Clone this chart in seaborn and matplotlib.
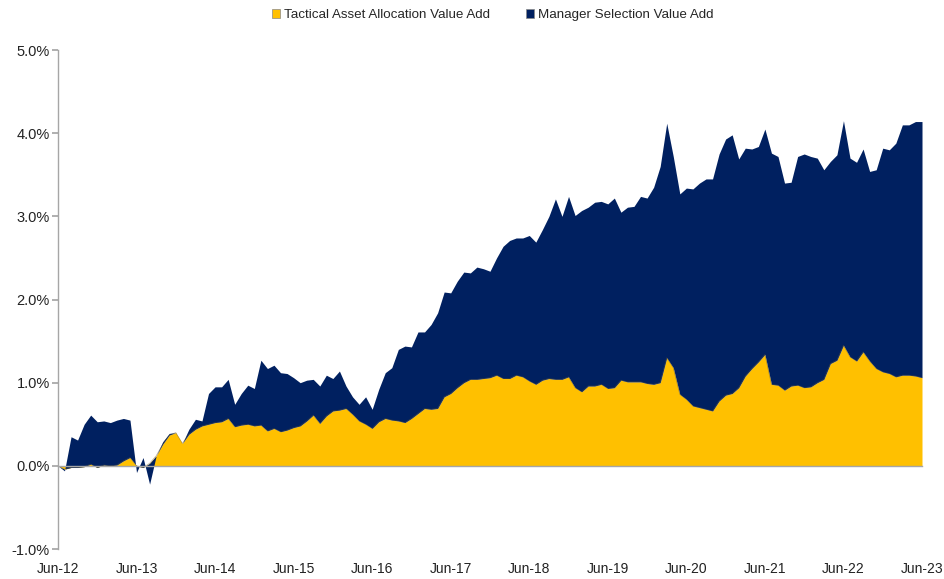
import numpy as np
import matplotlib
matplotlib.use('Agg')
import matplotlib.pyplot as plt
import seaborn as sns
from matplotlib.patches import Patch
from matplotlib.ticker import FuncFormatter

# cumulative value add (%), monthly Jun-12 .. Jun-23
taa = [
    0.00, -0.04, -0.02, -0.02, -0.01, 0.02, -0.02, 0.01, 0.00, 0.01, 0.06, 0.10,
    0.00, -0.02, 0.03, 0.12, 0.26, 0.37, 0.40, 0.27, 0.38, 0.44, 0.48, 0.50,
    0.52, 0.53, 0.57, 0.47, 0.49, 0.50, 0.48, 0.49, 0.42, 0.45, 0.41, 0.43,
    0.46, 0.48, 0.54, 0.61, 0.51, 0.60, 0.66, 0.67, 0.69, 0.62, 0.54, 0.50,
    0.45, 0.53, 0.57, 0.55, 0.54, 0.52, 0.57, 0.63, 0.69, 0.68, 0.69, 0.83,
    0.87, 0.94, 1.00, 1.04, 1.04, 1.05, 1.06, 1.09, 1.05, 1.05, 1.09, 1.07,
    1.02, 0.98, 1.03, 1.05, 1.04, 1.04, 1.07, 0.94, 0.89, 0.96, 0.96, 0.98,
    0.93, 0.94, 1.03, 1.01, 1.01, 1.01, 0.99, 0.98, 1.00, 1.30, 1.18, 0.86,
    0.80, 0.72, 0.70, 0.68, 0.66, 0.78, 0.85, 0.87, 0.94, 1.08, 1.17, 1.25,
    1.34, 0.98, 0.97, 0.91, 0.96, 0.97, 0.94, 0.95, 1.00, 1.04, 1.23, 1.27,
    1.45, 1.31, 1.26, 1.37, 1.26, 1.17, 1.13, 1.11, 1.07, 1.09, 1.09, 1.08,
    1.06,
]

# top of the stack (TAA + manager selection)
total_va = [
    0.00, -0.06, 0.35, 0.31, 0.50, 0.61, 0.53, 0.54, 0.52, 0.55, 0.57, 0.55,
    -0.08, 0.10, -0.22, 0.12, 0.29, 0.39, 0.40, 0.27, 0.44, 0.56, 0.54, 0.87,
    0.95, 0.95, 1.04, 0.74, 0.87, 0.97, 0.93, 1.27, 1.17, 1.21, 1.12, 1.11,
    1.06, 1.00, 1.03, 1.04, 0.96, 1.09, 1.05, 1.14, 0.96, 0.83, 0.74, 0.83,
    0.68, 0.92, 1.12, 1.18, 1.40, 1.44, 1.43, 1.61, 1.61, 1.70, 1.84, 2.09,
    2.08, 2.22, 2.33, 2.32, 2.39, 2.37, 2.34, 2.50, 2.64, 2.71, 2.74, 2.74,
    2.77, 2.69, 2.84, 3.00, 3.21, 3.00, 3.24, 3.01, 3.07, 3.11, 3.17, 3.18,
    3.15, 3.22, 3.05, 3.11, 3.12, 3.24, 3.22, 3.35, 3.60, 4.12, 3.72, 3.27,
    3.34, 3.33, 3.40, 3.45, 3.45, 3.75, 3.93, 3.98, 3.69, 3.82, 3.81, 3.84,
    4.05, 3.76, 3.72, 3.40, 3.41, 3.72, 3.75, 3.72, 3.70, 3.56, 3.66, 3.74,
    4.15, 3.70, 3.65, 3.81, 3.54, 3.56, 3.82, 3.80, 3.88, 4.10, 4.10, 4.14,
    4.14,
]

year_labels = ['Jun-12', 'Jun-13', 'Jun-14', 'Jun-15', 'Jun-16', 'Jun-17',
               'Jun-18', 'Jun-19', 'Jun-20', 'Jun-21', 'Jun-22', 'Jun-23']

series_names = ['Tactical Asset Allocation Value Add', 'Manager Selection Value Add']
gold = '#FFC000'
navy = '#002060'

sns.set_theme(style='white')
plt.rcParams['font.family'] = ['Liberation Sans Narrow', 'Liberation Sans', 'DejaVu Sans']

x = np.arange(len(taa))
mgr = np.array(total_va) - np.array(taa)

fig = plt.figure(figsize=(9.44, 5.79), dpi=100)
ax = fig.add_axes([0.0614, 0.0518, 0.9153, 0.8618])

ax.stackplot(x, taa, mgr, colors=[gold, navy], linewidth=0)
sns.lineplot(x=x, y=taa, ax=ax, color='#6b5a2a', lw=0.5, alpha=0.5, legend=False)

ax.set_xlim(0, len(taa) - 1)
ax.set_ylim(-1, 5)
ax.set_yticks(np.arange(-1, 5.01, 1))
ax.yaxis.set_major_formatter(FuncFormatter(lambda v, p: f'{v:.1f}%'))

# x axis line sits at zero, labels stay at the bottom
ax.spines['bottom'].set_position(('data', 0))
ax.spines['top'].set_visible(False)
ax.spines['right'].set_visible(False)
for s in ['left', 'bottom']:
    ax.spines[s].set_color('#A6A6A6')
    ax.spines[s].set_linewidth(1.0)
ax.set_xticks(np.arange(0, len(taa), 12))
ax.tick_params(axis='x', direction='out', length=4, color='#A6A6A6', labelbottom=False)
ax.tick_params(axis='y', direction='out', length=4, color='#A6A6A6', labelsize=10.5,
               labelcolor='#222222', left=True, pad=2)

sec = ax.secondary_xaxis('bottom')
sec.set_xticks(np.arange(0, len(taa), 12), labels=year_labels)
sec.spines['bottom'].set_visible(False)
sec.tick_params(length=0, labelsize=10, labelcolor='#222222', pad=9)

handles = [Patch(facecolor=gold, edgecolor='#888888', linewidth=0.5),
           Patch(facecolor=navy, edgecolor='#888888', linewidth=0.5)]
fig.legend(handles, series_names, loc='upper center', bbox_to_anchor=(0.522, 1.005),
           ncol=2, frameon=False, fontsize=9.6, handlelength=0.6, handleheight=0.6,
           handletextpad=0.3, columnspacing=2.7)

fig.savefig('out.png', dpi=100)
